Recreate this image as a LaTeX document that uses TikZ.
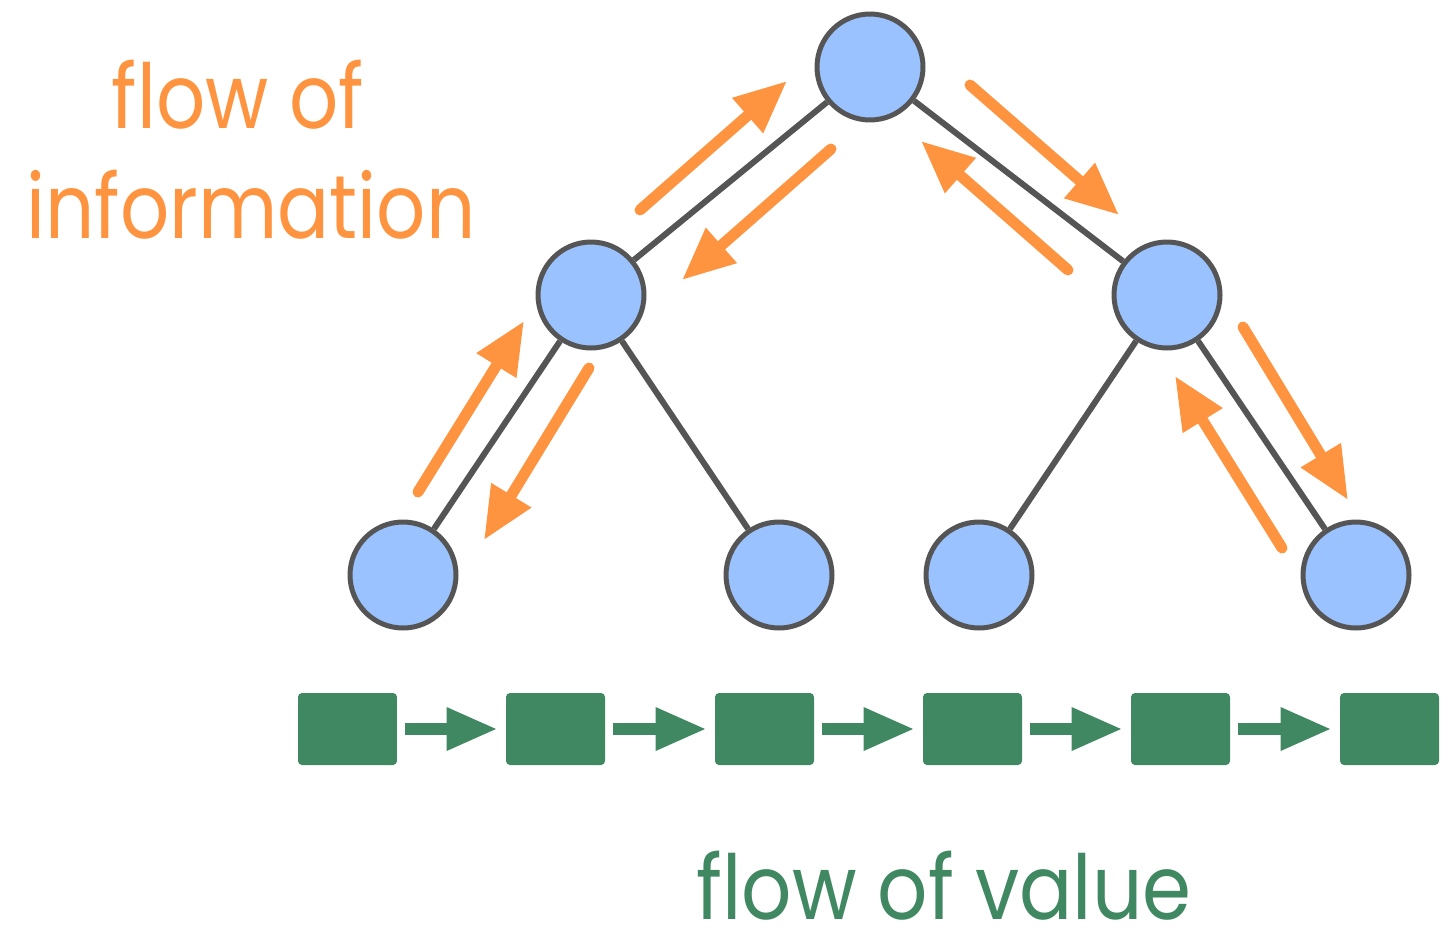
\documentclass[tikz,border=0pt]{standalone}
\usepackage{fontspec}
\setmainfont{Poppins}
\usetikzlibrary{arrows.meta}
\definecolor{nodeblue}{RGB}{153,194,255}
\definecolor{edgegray}{RGB}{85,85,85}
\definecolor{flowor}{RGB}{255,148,64}
\definecolor{valgreen}{RGB}{64,136,98}
\newcommand{\narrowtext}[1]{\scalebox{0.86}[1]{#1}}
\newcommand{\narrowtextg}[1]{\scalebox{0.88}[1]{#1}}
\tikzset{
  treenode/.style={circle, fill=nodeblue, draw=edgegray, line width=0.1cm, minimum size=2.12cm, inner sep=0pt},
  treeedge/.style={draw=edgegray, line width=0.12cm},
  infoarrow/.style={draw=flowor, line width=0.22cm, line cap=round, -{Triangle[length=1.05cm,width=0.88cm]}},
  valbox/.style={rectangle, fill=valgreen, rounded corners=0.08cm, minimum width=1.98cm, minimum height=1.44cm, inner sep=0pt},
  valarrow/.style={draw=valgreen, line width=0.24cm, -{Triangle[length=1.02cm,width=0.8cm]}, shorten <=0.16cm, shorten >=0.16cm},
  orangetext/.style={text=flowor, font=\fontsize{51}{60}\selectfont, inner sep=0pt, anchor=base},
  greentext/.style={text=valgreen, font=\fontsize{51}{60}\selectfont, inner sep=0pt, anchor=base, text depth=0pt}
}
\begin{document}
\begin{tikzpicture}[x=0.02cm, y=-0.02cm]
\useasboundingbox (0,0) rectangle (1452,927);
% tree nodes
\node[treenode] (r) at (870,67) {};
\node[treenode] (l) at (591,295) {};
\node[treenode] (m) at (1167,295) {};
\node[treenode] (ll) at (403,575) {};
\node[treenode] (lr) at (779,575) {};
\node[treenode] (rl) at (979,575) {};
\node[treenode] (rr) at (1356,575) {};
% edges
\draw[treeedge] (r) -- (l);
\draw[treeedge] (r) -- (m);
\draw[treeedge] (l) -- (ll);
\draw[treeedge] (l) -- (lr);
\draw[treeedge] (m) -- (rl);
\draw[treeedge] (m) -- (rr);
% information arrows
\coordinate (a1s) at (640,210); \coordinate (a1e) at (787,81);
\coordinate (a2s) at (831,149); \coordinate (a2e) at (682,280);
\coordinate (a3s) at (970,85); \coordinate (a3e) at (1119,215);
\coordinate (a4s) at (1068,270); \coordinate (a4e) at (921,141);
\coordinate (a5s) at (418,492); \coordinate (a5e) at (524,321);
\coordinate (a6s) at (589,368); \coordinate (a6e) at (484,540);
\coordinate (a7s) at (1243,327); \coordinate (a7e) at (1348,500);
\coordinate (a8s) at (1282,548); \coordinate (a8e) at (1175,376);
\draw[infoarrow] (a1s) -- (a1e);
\draw[infoarrow] (a2s) -- (a2e);
\draw[infoarrow] (a3s) -- (a3e);
\draw[infoarrow] (a4s) -- (a4e);
\draw[infoarrow] (a5s) -- (a5e);
\draw[infoarrow] (a6s) -- (a6e);
\draw[infoarrow] (a7s) -- (a7e);
\draw[infoarrow] (a8s) -- (a8e);
% value chain
\node[valbox] (b1) at (347.5,729) {};
\node[valbox] (b2) at (555.5,729) {};
\node[valbox] (b3) at (764.5,729) {};
\node[valbox] (b4) at (972.5,729) {};
\node[valbox] (b5) at (1180.5,729) {};
\node[valbox] (b6) at (1389.5,729) {};
\draw[valarrow] (b1) -- (b2);
\draw[valarrow] (b2) -- (b3);
\draw[valarrow] (b3) -- (b4);
\draw[valarrow] (b4) -- (b5);
\draw[valarrow] (b5) -- (b6);
% labels
\node[orangetext] (t1) at (238,128) {\narrowtext{flow of}};
\node[orangetext] (t2) at (251,238) {\narrowtext{information}};
\node[greentext] (t3) at (944,919) {\narrowtextg{flow of value}};
\end{tikzpicture}
\end{document}
